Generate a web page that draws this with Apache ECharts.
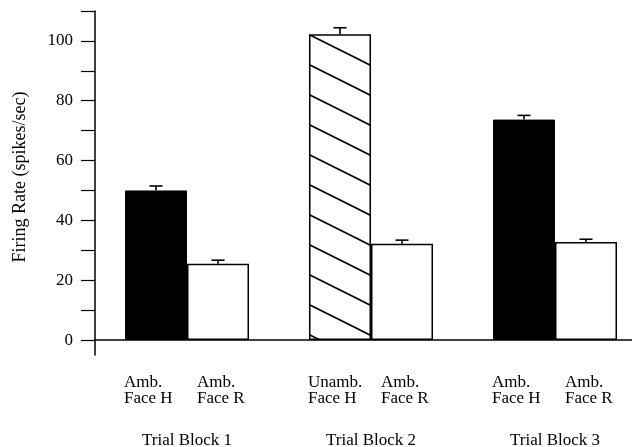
<!DOCTYPE html>
<html>
<head>
<meta charset="utf-8">
<script src="https://cdn.jsdelivr.net/npm/echarts@6/dist/echarts.min.js"></script>
<style>
html,body{margin:0;padding:0;background:#fff;}
#chart{width:632px;height:447px;}
</style>
</head>
<body>
<div id="chart"></div>
<script>
// ---- data ----
const trialBlocks = ['Trial Block 1', 'Trial Block 2', 'Trial Block 3'];
const leftLabels = ['Amb.\nFace H', 'Unamb.\nFace H', 'Amb.\nFace H'];
const rightLabels = ['Amb.\nFace R', 'Amb.\nFace R', 'Amb.\nFace R'];
const leftValues = [50.0, 102.2, 73.7];
const rightValues = [25.5, 32.2, 32.8];
const leftErrTop = [51.5, 104.4, 75.1];
const rightErrTop = [26.7, 33.4, 33.7];
const yTickValues = [0, 10, 20, 30, 40, 50, 60, 70, 80, 90, 100, 110];
const yLabelValues = [0, 20, 40, 60, 80, 100];

// ---- style ----
const FONT = '"Liberation Serif", "DejaVu Serif", serif';
const INK = '#000';
const BAR_W = 62;
const leftFillKinds = ['solid', 'hatch', 'solid'];

function makeHatch() {
  const c = document.createElement('canvas');
  c.width = 60; c.height = 30;
  const g = c.getContext('2d');
  g.fillStyle = '#fff';
  g.fillRect(0, 0, 60, 30);
  g.strokeStyle = INK;
  g.lineWidth = 1.6;
  for (const dy of [-30, 0, 30]) {
    g.beginPath();
    g.moveTo(-2, dy - 1);
    g.lineTo(62, dy + 31);
    g.stroke();
  }
  return c;
}
const hatch = { image: makeHatch(), repeat: 'repeat' };

const leftData = leftValues.map((v, i) => ({
  value: v,
  itemStyle: leftFillKinds[i] === 'hatch'
    ? { color: hatch, borderColor: INK, borderWidth: 1.5 }
    : { color: INK, borderColor: INK, borderWidth: 1 }
}));

function errSeries(values, tops, offset) {
  return {
    type: 'custom',
    z: 5,
    silent: true,
    data: values.map((v, i) => [i, v, tops[i]]),
    renderItem: function (params, api) {
      const p = api.coord([api.value(0), api.value(1)]);
      const q = api.coord([api.value(0), api.value(2)]);
      const x = p[0] + offset;
      const st = { stroke: INK, lineWidth: 1.6 };
      return {
        type: 'group',
        children: [
          { type: 'line', shape: { x1: x, y1: p[1], x2: x, y2: q[1] }, style: st },
          { type: 'line', shape: { x1: x - 6.5, y1: q[1], x2: x + 6.5, y2: q[1] }, style: st }
        ]
      };
    }
  };
}

const labelCommon = {
  show: true,
  position: 'bottom',
  distance: 34,
  align: 'left',
  fontFamily: FONT,
  fontSize: 17,
  lineHeight: 16,
  color: INK
};

const chart = echarts.init(document.getElementById('chart'));
chart.setOption({
  animation: false,
  backgroundColor: '#fff',
  grid: { left: 95, top: 11, width: 552, bottom: 92, outerBoundsMode: 'none', containLabel: false },
  xAxis: {
    type: 'category',
    data: trialBlocks,
    axisLine: { onZero: true, lineStyle: { color: INK, width: 1.5 } },
    axisTick: { show: false },
    axisLabel: { margin: 77, fontFamily: FONT, fontSize: 17, color: INK, interval: 0 }
  },
  yAxis: {
    type: 'value',
    min: -5,
    max: 110,
    name: 'Firing Rate (spikes/sec)',
    nameLocation: 'middle',
    nameRotate: 90,
    nameGap: 66,
    nameTextStyle: { fontFamily: FONT, fontSize: 18, color: INK, padding: [0, 0, 0, 12] },
    axisLine: { show: true, lineStyle: { color: INK, width: 1.5 } },
    axisTick: { show: true, length: 14, inside: false, customValues: yTickValues, lineStyle: { color: INK, width: 1.2 } },
    axisLabel: { customValues: yLabelValues, margin: 22, fontFamily: FONT, fontSize: 17, color: INK },
    splitLine: { show: false }
  },
  series: [
    {
      type: 'bar',
      barWidth: BAR_W,
      barGap: '0%',
      data: leftData,
      label: Object.assign({}, labelCommon, {
        offset: [-32, 0],
        formatter: p => leftLabels[p.dataIndex]
      })
    },
    {
      type: 'bar',
      barWidth: BAR_W,
      barGap: '0%',
      data: rightValues,
      itemStyle: { color: '#fff', borderColor: INK, borderWidth: 1.5 },
      label: Object.assign({}, labelCommon, {
        offset: [-21, 0],
        formatter: p => rightLabels[p.dataIndex]
      })
    },
    errSeries(leftValues, leftErrTop, -BAR_W / 2),
    errSeries(rightValues, rightErrTop, BAR_W / 2)
  ]
});
</script>
</body>
</html>
